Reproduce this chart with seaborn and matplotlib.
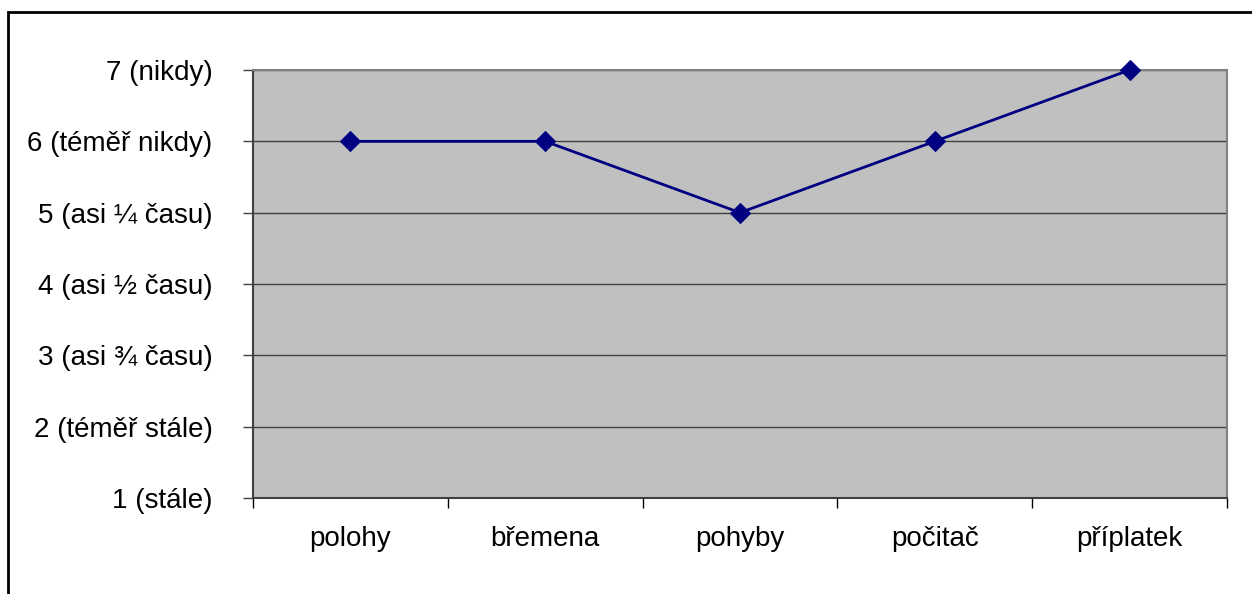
import numpy as np
import pandas as pd
import matplotlib
matplotlib.use('Agg')
import matplotlib.pyplot as plt
import seaborn as sns
from matplotlib.patches import Rectangle

# data
categories = ['polohy', 'břemena', 'pohyby', 'počitač', 'příplatek']
values = [6, 6, 5, 6, 7]
y_levels = [1, 2, 3, 4, 5, 6, 7]
y_labels = ['1 (stále)', '2 (téměř stále)', '3 (asi ¾ času)', '4 (asi ½ času)',
            '5 (asi ¼ času)', '6 (téměř nikdy)', '7 (nikdy)']

sns.set_theme(style='white')
plt.rcParams['font.family'] = ['Liberation Sans', 'DejaVu Sans']
plt.rcParams['text.color'] = 'black'
plt.rcParams['xtick.color'] = 'black'
plt.rcParams['ytick.color'] = 'black'
plt.rcParams['xtick.labelcolor'] = 'black'
plt.rcParams['ytick.labelcolor'] = 'black'

df = pd.DataFrame({'kategorie': categories, 'hodnota': values})

fig = plt.figure(figsize=(12.52, 5.94), dpi=100)
fig.patch.set_facecolor('white')
# outer chart frame (cut at right/bottom edge)
fig.patches.append(Rectangle((8 / 1252, -0.1), 1.2, 1 - 12 / 594 + 0.1,
                             transform=fig.transFigure, fill=False,
                             edgecolor='black', linewidth=2, zorder=0))

ax = fig.add_axes([253 / 1252, 1 - 498 / 594, (1227 - 253) / 1252, (498 - 70) / 594])
ax.set_facecolor('#C0C0C0')

sns.lineplot(data=df, x='kategorie', y='hodnota', ax=ax, color='#000080',
             marker='D', markersize=10, markeredgecolor='#000080',
             linewidth=2, zorder=5, clip_on=False)

ax.set_ylim(1, 7)
ax.set_xlim(-0.5, len(categories) - 0.5)
ax.set_yticks(y_levels)
ax.set_yticklabels(y_labels, fontsize=20, color='black')
for y in y_levels[1:]:
    ax.axhline(y, color='#404040', linewidth=1, zorder=1)

# boundary ticks (major) and centred labels (minor)
ax.set_xticks(np.arange(-0.5, len(categories)), labels=[''] * (len(categories) + 1))
ax.set_xticks(np.arange(len(categories)), labels=categories, minor=True,
              fontsize=20, color='black')
ax.tick_params(axis='x', which='major', direction='out', length=7, width=1,
               color='black', bottom=True)
ax.tick_params(axis='x', which='minor', length=0, pad=20, bottom=True)
ax.tick_params(axis='y', direction='out', length=7, width=1, color='#404040',
               pad=22, left=True)

ax.set_xlabel('')
ax.set_ylabel('')
for side in ['top', 'right']:
    ax.spines[side].set_color('#808080')
    ax.spines[side].set_linewidth(1.5)
for side in ['left', 'bottom']:
    ax.spines[side].set_color('#404040')
    ax.spines[side].set_linewidth(1.5)

fig.savefig('out.png', dpi=100)
